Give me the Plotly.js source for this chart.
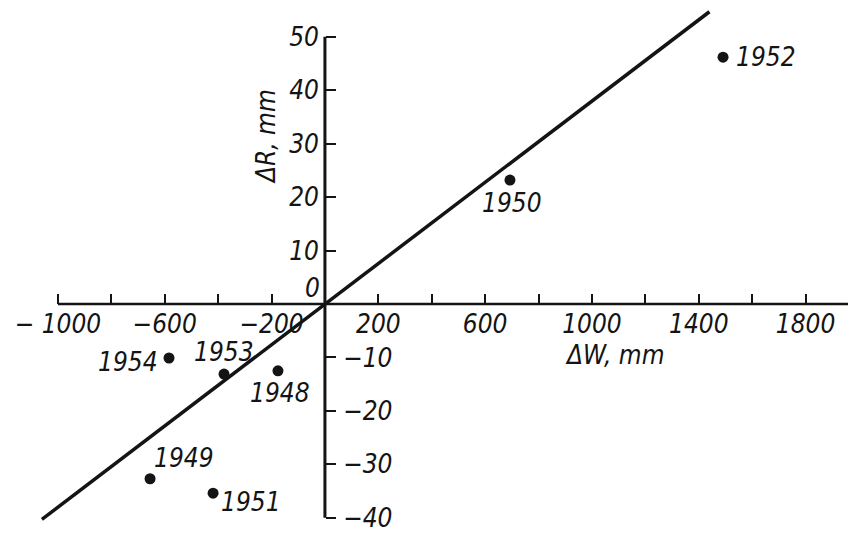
<!DOCTYPE html>
<html>
<head>
<meta charset="utf-8">
<script src="https://cdn.plot.ly/plotly-3.0.1.min.js"></script>
<style>html,body{margin:0;padding:0;background:#fff;}#chart{width:848px;height:533px;}</style>
</head>
<body>
<div id="chart"></div>
<script>
// ---- data ----
const years = ['1948', '1949', '1950', '1951', '1952', '1953', '1954'];
const deltaW = [-176, -655, 693, -419, 1491, -378, -584];   // ΔW, mm
const deltaR = [-12.5, -32.7, 23.2, -35.4, 46.2, -13.1, -10.1]; // ΔR, mm
const lineW = [-1060, 1440];   // regression line ends (ΔW)
const lineR = [-40.3, 54.7];   // regression line ends (ΔR)

const xTickVals = [-1000, -800, -600, -400, -200, 200, 400, 600, 800, 1000, 1200, 1400, 1600, 1800];
const xTickText = ['\u2212 1000', '', '\u2212600', '', '\u2212200', '200', '', '600', '', '1000', '', '1400', '', '1800'];
const yPosVals = [10, 20, 30, 40, 50];
const yPosText = ['10', '20', '30', '40', '50'];
const yNegVals = [-10, -20, -30, -40];
const yNegText = ['\u221210', '\u221220', '\u221230', '\u221240'];

// ---- styling / layout ----
const W = 848, H = 533;
const X0 = -1217, X1 = 1959;
const Y0 = -42.85, Y1 = 56.9;
const posX = (0 - Y0) / (Y1 - Y0);   // paper y of ΔR = 0
const posY = (0 - X0) / (X1 - X0);   // paper x of ΔW = 0
const ink = '#141414';
const fnt = {family: '"DejaVu Sans Condensed", "Liberation Sans", sans-serif', size: 26, color: ink, style: 'italic'};

// label offsets per year (px)
const labelStyle = {
  '1948': {xanchor: 'center', xshift: 2, yshift: -22},
  '1949': {xanchor: 'left', xshift: 2, yshift: 21},
  '1950': {xanchor: 'center', xshift: 2, yshift: -23},
  '1951': {xanchor: 'left', xshift: 6, yshift: -9},
  '1952': {xanchor: 'left', xshift: 11, yshift: 0},
  '1953': {xanchor: 'center', xshift: 0, yshift: 22},
  '1954': {xanchor: 'right', xshift: -9, yshift: -4}
};

const traces = [
  {x: lineW, y: lineR, mode: 'lines', line: {color: ink, width: 3.5}, hoverinfo: 'skip'},
  {x: deltaW, y: deltaR, mode: 'markers', marker: {color: ink, size: 11}, hoverinfo: 'skip'},
  {x: [0], y: [0], yaxis: 'y2', mode: 'markers', marker: {opacity: 0}, hoverinfo: 'skip'}
];

const annotations = years.map((yr, i) => Object.assign({
  x: deltaW[i], y: deltaR[i], xref: 'x', yref: 'y', text: yr, showarrow: false,
  yanchor: 'middle', font: fnt
}, labelStyle[yr]));

annotations.push({x: 0, y: 0, xref: 'x', yref: 'y', text: '0', showarrow: false,
  xanchor: 'right', yanchor: 'bottom', xshift: -3, yshift: -1, font: fnt});
annotations.push({x: 266 / W, y: 1 - 137 / H, xref: 'paper', yref: 'paper', text: '\u0394R, mm',
  textangle: -90, showarrow: false, xanchor: 'center', yanchor: 'middle', font: fnt});
annotations.push({x: 614 / W, y: 1 - 355 / H, xref: 'paper', yref: 'paper', text: '\u0394W, mm',
  showarrow: false, xanchor: 'center', yanchor: 'middle', font: fnt});

const shapes = [
  {type: 'line', xref: 'x', yref: 'y', x0: xTickVals[0], x1: X1, y0: 0, y1: 0, line: {color: ink, width: 2.5}},
  {type: 'line', xref: 'x', yref: 'y', x0: 0, x1: 0, y0: yNegVals[yNegVals.length - 1], y1: yPosVals[yPosVals.length - 1], line: {color: ink, width: 3}}
];

const commonAx = {showgrid: false, zeroline: false, showline: false, automargin: false,
  tickmode: 'array', tickcolor: ink, tickwidth: 2, ticklen: 10, tickfont: fnt, fixedrange: true,
  ticklabeloverflow: 'allow'};

const layout = {
  width: W, height: H,
  margin: {l: 0, r: 0, t: 0, b: 0},
  paper_bgcolor: '#fff', plot_bgcolor: '#fff',
  showlegend: false,
  xaxis: Object.assign({}, commonAx, {range: [X0, X1], anchor: 'free', position: posX,
    tickvals: xTickVals, ticktext: xTickText, ticks: 'inside', side: 'bottom', ticklabelstandoff: 2}),
  yaxis: Object.assign({}, commonAx, {range: [Y0, Y1], anchor: 'free', position: posY,
    tickvals: yPosVals, ticktext: yPosText, ticks: 'inside', side: 'left', ticklabelstandoff: 6}),
  yaxis2: Object.assign({}, commonAx, {range: [Y0, Y1], anchor: 'free', position: posY, overlaying: 'y',
    tickvals: yNegVals, ticktext: yNegText, ticks: 'outside', side: 'right', ticklabelstandoff: 2}),
  annotations: annotations,
  shapes: shapes
};

Plotly.newPlot('chart', traces, layout, {staticPlot: true, displayModeBar: false});
</script>
</body>
</html>
